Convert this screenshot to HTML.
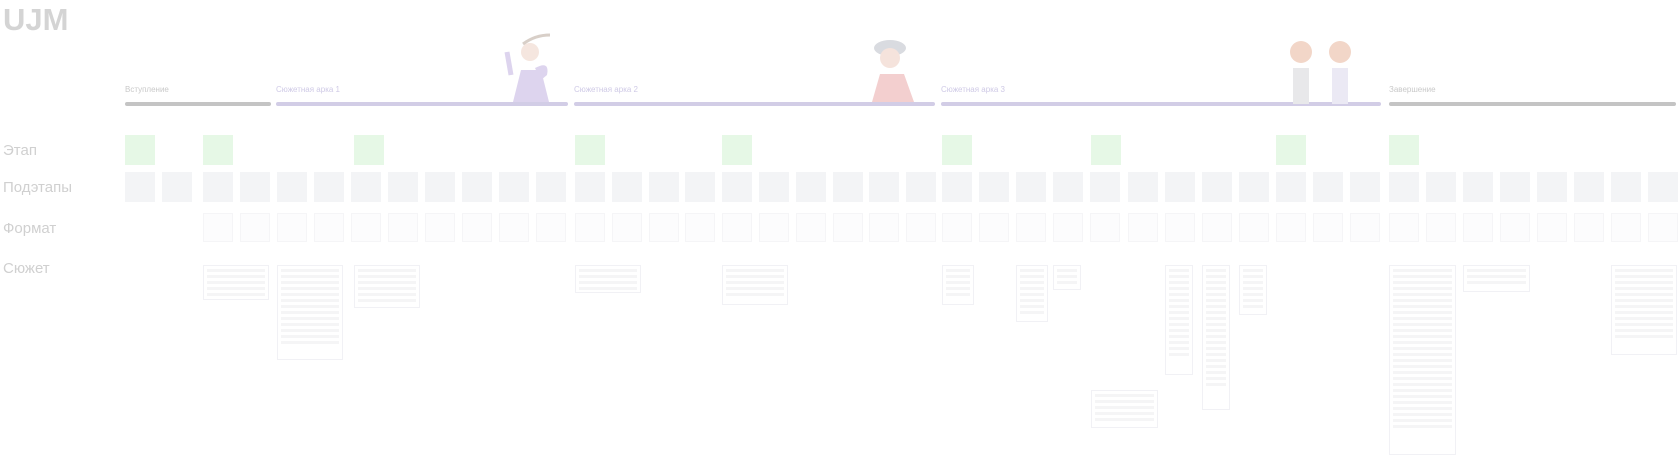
<!DOCTYPE html>
<html><head><meta charset="utf-8"><style>
body{margin:0;width:1680px;height:461px;background:#fff;position:relative;overflow:hidden;font-family:"Liberation Sans","Noto Sans CJK SC",sans-serif}
.a{position:absolute}
.t{color:#d0d0d0;font-size:15px}
.ph{position:absolute;top:85px;font-size:8px;color:#c9c9c9}
.ln{position:absolute;top:102px;height:4px;border-radius:2px}
.g{position:absolute;top:135px;width:30px;height:30px;background:#e6f8e6}
.s{position:absolute;top:172px;width:30px;height:30px;background:#f3f4f6}
.f{position:absolute;top:213px;width:30px;height:29px;background:#fcfcfd;border:1px solid #f5f5f7;box-sizing:border-box}
.c{position:absolute;background:#fff;border:1px solid #f1f1f5;box-sizing:border-box}
.c i{display:block;height:3px;background:#f5f5f6;margin:3px 3px}
</style></head><body>
<div class="a" style="left:3px;top:2px;font-size:31px;font-weight:bold;color:#d4d4d4">UJM</div>
<div class="a t" style="left:3px;top:142px">Этап</div>
<div class="a t" style="left:3px;top:179px">Подэтапы</div>
<div class="a t" style="left:3px;top:220px">Формат</div>
<div class="a t" style="left:3px;top:260px">Сюжет</div>

<div class="ph" style="left:125px">Вступление</div>
<div class="ph" style="left:276px;color:#cfcae6">Сюжетная арка 1</div>
<div class="ph" style="left:574px;color:#cfcae6">Сюжетная арка 2</div>
<div class="ph" style="left:941px;color:#cfcae6">Сюжетная арка 3</div>
<div class="ph" style="left:1389px">Завершение</div>
<div class="ln" style="left:125px;width:146px;background:#c4c4c4"></div>
<div class="ln" style="left:276px;width:292px;background:#d2cde6"></div>
<div class="ln" style="left:574px;width:361px;background:#d2cde6"></div>
<div class="ln" style="left:941px;width:440px;background:#d2cde6"></div>
<div class="ln" style="left:1389px;width:287px;background:#c4c4c4"></div>

<svg class="a" style="left:495px;top:30px" width="70" height="75">
<path d="M18 72 L26 40 L46 40 L54 72 Z" fill="#ddd4ee"/>
<path d="M40 38 Q55 30 52 45 L46 50" fill="#ddd4ee"/>
<circle cx="35" cy="22" r="9" fill="#f5e6df"/>
<path d="M28 14 Q40 5 55 5" stroke="#d8cfc8" stroke-width="3" fill="none"/>
<path d="M12 22 L16 45" stroke="#ddd4ee" stroke-width="5"/>
</svg>
<svg class="a" style="left:862px;top:38px" width="60" height="66">
<ellipse cx="28" cy="10" rx="16" ry="8" fill="#d9dbe0"/>
<circle cx="28" cy="20" r="10" fill="#f5e3dc"/>
<path d="M10 64 L18 36 L42 36 L52 64 Z" fill="#f3cfcf"/>
</svg>
<svg class="a" style="left:1283px;top:38px" width="80" height="66">
<circle cx="18" cy="14" r="11" fill="#f2d6c8"/>
<circle cx="57" cy="14" r="11" fill="#f2d6c8"/>
<rect x="10" y="30" width="16" height="36" fill="#e8e8ea"/>
<rect x="49" y="30" width="16" height="36" fill="#ebe9f4"/>
</svg>

<div id="cols"></div>
<script>
var xs=[125,162];for(var i=0;i<10;i++)xs.push(203+i*37);for(i=0;i<10;i++)xs.push(575+i*36.8);for(i=0;i<12;i++)xs.push(942+i*37.1);for(i=0;i<8;i++)xs.push(1389+i*37);
var h='';xs.forEach(function(x,k){x=Math.round(x);h+='<div class="s" style="left:'+x+'px"></div>';if(k>1)h+='<div class="f" style="left:'+x+'px"></div>';});
[125,203,354,575,722,942,1091,1276,1389].forEach(function(x){h+='<div class="g" style="left:'+x+'px"></div>';});
var cs=[[203,265,66,35],[277,265,66,95],[354,265,66,43],[575,265,66,28],[722,265,66,40],[942,265,32,40],[1016,265,32,57],[1053,265,28,25],[1091,390,67,38],[1165,265,28,110],[1202,265,28,145],[1239,265,28,50],[1389,265,67,190],[1463,265,67,27],[1611,265,66,90]];
cs.forEach(function(c){var n=Math.max(2,Math.floor(c[3]/7));var s='';for(var j=0;j<n;j++)s+='<i></i>';h+='<div class="c" style="left:'+c[0]+'px;top:'+c[1]+'px;width:'+c[2]+'px;height:'+c[3]+'px">'+s+'</div>';});
document.getElementById('cols').innerHTML=h;
</script>
</body></html>
